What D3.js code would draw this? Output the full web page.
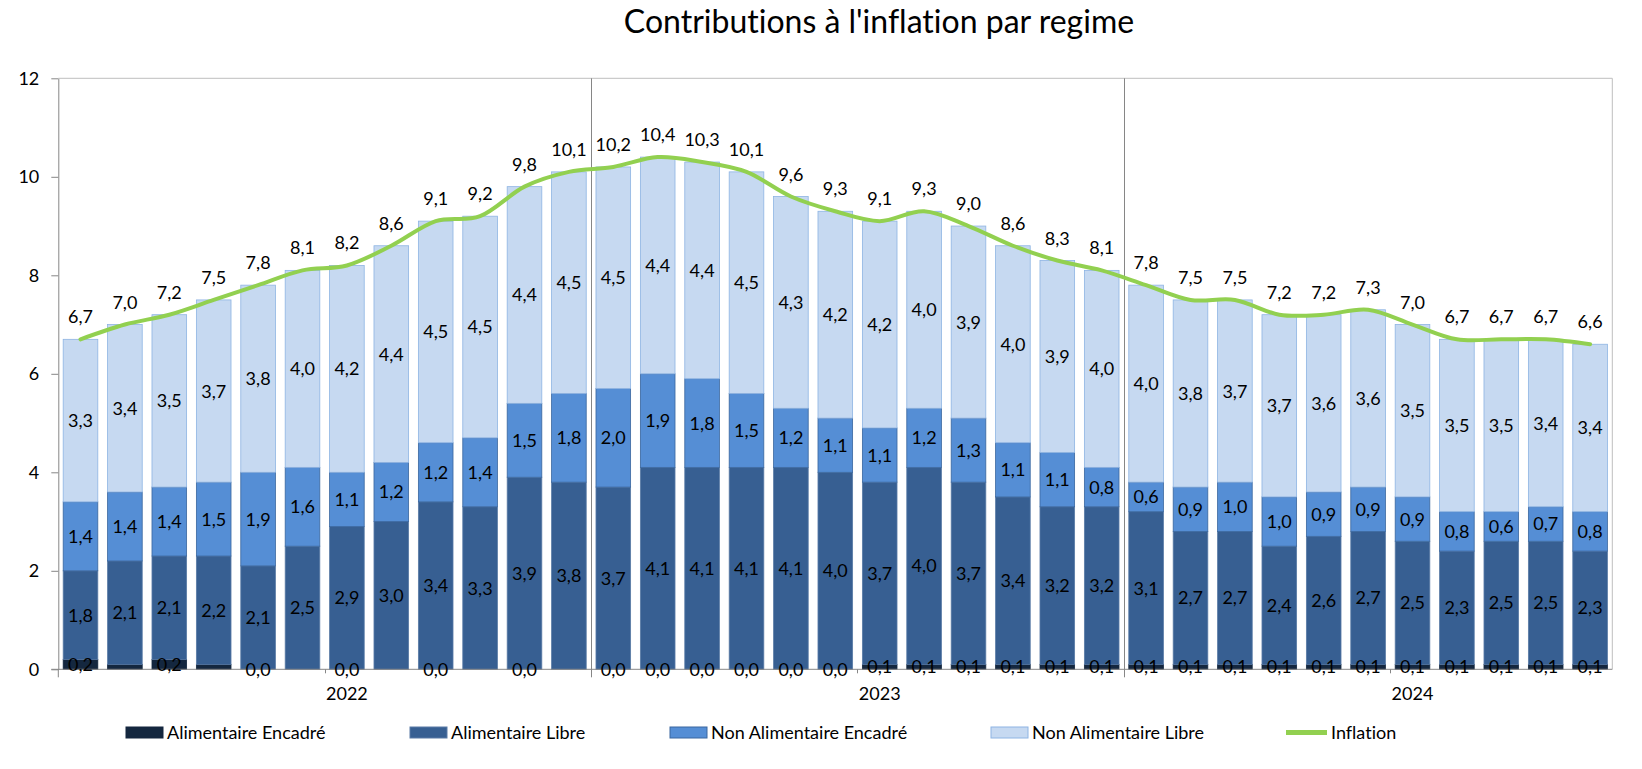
<!DOCTYPE html>
<html>
<head>
<meta charset="utf-8">
<script src="https://cdn.jsdelivr.net/npm/d3@7"></script>
<style>
  html, body { margin: 0; padding: 0; background: #ffffff; }
  svg { display: block; font-family: Lato, "Open Sans", sans-serif; font-variant-ligatures: none; }
</style>
</head>
<body>
<svg id="chart" width="1642" height="769"></svg>
<script>
// ---------------- DATA ----------------
const periods = [
  "2022-01","2022-02","2022-03","2022-04","2022-05","2022-06","2022-07","2022-08","2022-09","2022-10","2022-11","2022-12",
  "2023-01","2023-02","2023-03","2023-04","2023-05","2023-06","2023-07","2023-08","2023-09","2023-10","2023-11","2023-12",
  "2024-01","2024-02","2024-03","2024-04","2024-05","2024-06","2024-07","2024-08","2024-09","2024-10","2024-11"
];
const alimentaireEncadre = [
  0.2, 0.1, 0.2, 0.1, 0.0, 0.0, 0.0, 0.0, 0.0, 0.0, 0.0, 0.0,
  0.0, 0.0, 0.0, 0.0, 0.0, 0.0, 0.1, 0.1, 0.1, 0.1, 0.1, 0.1,
  0.1, 0.1, 0.1, 0.1, 0.1, 0.1, 0.1, 0.1, 0.1, 0.1, 0.1
];
const alimentaireLibre = [
  1.8, 2.1, 2.1, 2.2, 2.1, 2.5, 2.9, 3.0, 3.4, 3.3, 3.9, 3.8,
  3.7, 4.1, 4.1, 4.1, 4.1, 4.0, 3.7, 4.0, 3.7, 3.4, 3.2, 3.2,
  3.1, 2.7, 2.7, 2.4, 2.6, 2.7, 2.5, 2.3, 2.5, 2.5, 2.3
];
const nonAlimentaireEncadre = [
  1.4, 1.4, 1.4, 1.5, 1.9, 1.6, 1.1, 1.2, 1.2, 1.4, 1.5, 1.8,
  2.0, 1.9, 1.8, 1.5, 1.2, 1.1, 1.1, 1.2, 1.3, 1.1, 1.1, 0.8,
  0.6, 0.9, 1.0, 1.0, 0.9, 0.9, 0.9, 0.8, 0.6, 0.7, 0.8
];
const nonAlimentaireLibre = [
  3.3, 3.4, 3.5, 3.7, 3.8, 4.0, 4.2, 4.4, 4.5, 4.5, 4.4, 4.5,
  4.5, 4.4, 4.4, 4.5, 4.3, 4.2, 4.2, 4.0, 3.9, 4.0, 3.9, 4.0,
  4.0, 3.8, 3.7, 3.7, 3.6, 3.6, 3.5, 3.5, 3.5, 3.4, 3.4
];
const inflation = [
  6.7, 7.0, 7.2, 7.5, 7.8, 8.1, 8.2, 8.6, 9.1, 9.2, 9.8, 10.1,
  10.2, 10.4, 10.3, 10.1, 9.6, 9.3, 9.1, 9.3, 9.0, 8.6, 8.3, 8.1,
  7.8, 7.5, 7.5, 7.2, 7.2, 7.3, 7.0, 6.7, 6.7, 6.7, 6.6
];
const seriesNames = ["Alimentaire Encadré", "Alimentaire Libre", "Non Alimentaire Encadré", "Non Alimentaire Libre"];
const lineName = "Inflation";
const yTicks = [0, 2, 4, 6, 8, 10, 12];
const yearLabels = ["2022", "2023", "2024"];
const yearLabelAt = ["2022-07", "2023-07", "2024-07"];
const yearStarts = ["2023-01", "2024-01"];
const minorTickAt = ["2022-07", "2023-07", "2024-07"];
// data labels that are not displayed in the original (Alimentaire Encadré)
const hiddenAELabels = ["2022-02", "2022-04", "2022-06", "2022-08", "2022-10", "2022-12"];
const title = "Contributions à l'inflation par regime";

// ---------------- STYLE ----------------
const fills   = ["#14273f", "#375f92", "#558ed5", "#c6d9f1"];
const strokes = ["#14273f", "#5a7ba6", "#3a679f", "#8eb4e3"];
const lineColor = "#92d050";
const fontSize = 18;

// ---------------- BUILD ----------------
const rows = periods.map((p, i) => ({
  period: p,
  [seriesNames[0]]: alimentaireEncadre[i],
  [seriesNames[1]]: alimentaireLibre[i],
  [seriesNames[2]]: nonAlimentaireEncadre[i],
  [seriesNames[3]]: nonAlimentaireLibre[i],
  inflation: inflation[i]
}));

const svg = d3.select("#chart");
const plot = { left: 58.3, right: 1612.3, top: 78.3, bottom: 669.3 };

const x = d3.scaleBand().domain(periods).range([plot.left, plot.right])
  .paddingInner(0.22).paddingOuter(0.11);
const y = d3.scaleLinear().domain([0, 12]).range([plot.bottom, plot.top]);
const color = d3.scaleOrdinal().domain(seriesNames).range(fills);
const strokeC = d3.scaleOrdinal().domain(seriesNames).range(strokes);
const fmt = v => d3.format(".1f")(v).replace(".", ",");
const boundary = p => x(p) - (x.step() - x.bandwidth()) / 2;

const stacked = d3.stack().keys(seriesNames)(rows);

// Title
svg.append("text")
  .attr("x", 879).attr("y", 33)
  .attr("text-anchor", "middle")
  .attr("font-size", 32)
  .attr("fill", "#000")
  .text(title);

// Plot frame (top & right)
svg.append("path")
  .attr("d", `M${plot.left},${plot.top}H${plot.right}V${plot.bottom}`)
  .attr("fill", "none").attr("stroke", "#bfbfbf").attr("stroke-width", 1);

// Bars
const layer = svg.append("g").selectAll("g").data(stacked).join("g")
  .attr("fill", d => color(d.key))
  .attr("stroke", d => strokeC(d.key))
  .attr("stroke-width", 0.8);
layer.selectAll("rect").data(d => d.map(v => ({ v, key: d.key }))).join("rect")
  .attr("x", d => x(d.v.data.period))
  .attr("y", d => y(d.v[1]))
  .attr("width", x.bandwidth())
  .attr("height", d => Math.max(0, y(d.v[0]) - y(d.v[1])));

// Year separators and ticks
const axisColor = "#868686";
const sep = svg.append("g").attr("stroke", axisColor).attr("stroke-width", 1);
yearStarts.forEach(p => {
  const bx = Math.round(boundary(p)) + 0.5;
  sep.append("line").attr("x1", bx).attr("x2", bx).attr("y1", plot.top).attr("y2", plot.bottom + 8);
});
minorTickAt.forEach(p => {
  const bx = Math.round(boundary(p)) + 0.5;
  sep.append("line").attr("x1", bx).attr("x2", bx).attr("y1", plot.bottom).attr("y2", plot.bottom + 4);
});

// X axis line
svg.append("line")
  .attr("x1", plot.left - 7).attr("x2", plot.right)
  .attr("y1", plot.bottom).attr("y2", plot.bottom)
  .attr("stroke", axisColor).attr("stroke-width", 1);

// Y axis
const yAxis = svg.append("g")
  .attr("transform", `translate(${plot.left},0)`)
  .call(d3.axisLeft(y).tickValues(yTicks).tickSize(7).tickSizeOuter(0).tickPadding(12).tickFormat(d3.format("d")));
yAxis.select(".domain").attr("stroke", axisColor);
yAxis.selectAll(".tick line").attr("stroke", axisColor);
yAxis.selectAll(".tick text").attr("font-size", fontSize).attr("font-family", "Lato, 'Open Sans', sans-serif").attr("fill", "#000");
svg.append("line")
  .attr("x1", plot.left).attr("x2", plot.left)
  .attr("y1", plot.bottom).attr("y2", plot.bottom + 8)
  .attr("stroke", axisColor);

// Year labels
svg.append("g").selectAll("text").data(yearLabels).join("text")
  .attr("x", (d, i) => x(yearLabelAt[i]) + x.bandwidth() / 2)
  .attr("y", 700)
  .attr("text-anchor", "middle")
  .attr("font-size", fontSize)
  .attr("fill", "#000")
  .text(d => d);

// Segment labels
const labelG = svg.append("g").attr("font-size", fontSize).attr("fill", "#000").attr("text-anchor", "middle");
stacked.forEach(s => {
  s.forEach(v => {
    if (s.key === seriesNames[0] && hiddenAELabels.includes(v.data.period)) return;
    labelG.append("text")
      .attr("x", x(v.data.period) + x.bandwidth() / 2)
      .attr("y", y((v[0] + v[1]) / 2))
      .attr("dy", "0.36em")
      .text(fmt(v.data[s.key]));
  });
});

// Inflation line
const line = d3.line()
  .x(d => x(d.period) + x.bandwidth() / 2)
  .y(d => y(d.inflation))
  .curve(d3.curveCardinal.tension(0));
svg.append("path")
  .datum(rows)
  .attr("d", line)
  .attr("fill", "none")
  .attr("stroke", lineColor)
  .attr("stroke-width", 4)
  .attr("stroke-linecap", "round")
  .attr("stroke-linejoin", "round");

// Inflation labels
svg.append("g").attr("font-size", fontSize).attr("fill", "#000").attr("text-anchor", "middle")
  .selectAll("text").data(rows).join("text")
  .attr("x", d => x(d.period) + x.bandwidth() / 2)
  .attr("y", d => y(d.inflation) - 16)
  .text(d => fmt(d.inflation));

// Legend
const legendY = 732.5;
const legendX = [126, 410, 670, 991];
const lg = svg.append("g").attr("font-size", fontSize).attr("fill", "#000");
seriesNames.forEach((name, i) => {
  lg.append("rect")
    .attr("x", legendX[i]).attr("y", legendY - 5.5)
    .attr("width", 37).attr("height", 11)
    .attr("fill", fills[i]).attr("stroke", strokes[i]).attr("stroke-width", 1);
  lg.append("text")
    .attr("x", legendX[i] + 41).attr("y", legendY).attr("dy", "0.36em")
    .text(name);
});
lg.append("line")
  .attr("x1", 1286).attr("x2", 1327).attr("y1", legendY).attr("y2", legendY)
  .attr("stroke", lineColor).attr("stroke-width", 5);
lg.append("text")
  .attr("x", 1331).attr("y", legendY).attr("dy", "0.36em")
  .text(lineName);
</script>
</body>
</html>
